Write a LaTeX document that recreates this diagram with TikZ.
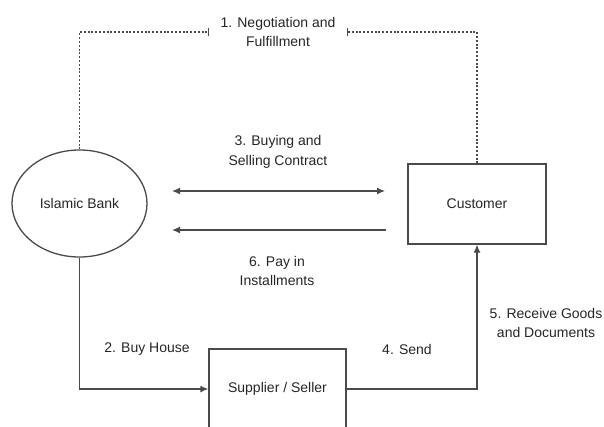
\documentclass[tikz,border=0pt]{standalone}
\usepackage{fontspec}
\setmainfont{Liberation Sans}
\usetikzlibrary{arrows.meta,shapes.geometric}
\definecolor{ln}{HTML}{4A4A4A}
\definecolor{tx}{HTML}{262626}
\begin{document}
\begin{tikzpicture}[x=1pt,y=-1pt,
  every node/.style={text=tx,font=\fontsize{14}{19.5}\selectfont},
  conn/.style={draw=ln,line width=1.3pt},
  tip/.style={-{Latex[length=8pt,width=7pt]}},
  dots/.style={draw=ln,line width=1.2pt,dash pattern=on 2pt off 1.8pt},
  boxn/.style={draw=ln,line width=1.3pt,rectangle,inner sep=0pt},
  lbl/.style={align=center,inner sep=0pt}]
\useasboundingbox (0,0) rectangle (604,426);
\clip (0,0) rectangle (604,426);
% nodes
\node[draw=ln,line width=1.3pt,ellipse,minimum width=135pt,minimum height=107pt,inner sep=0pt] (bank) at (79.5,203.5) {Islamic Bank};
\node[boxn,minimum width=138pt,minimum height=80pt] (cust) at (477,204) {Customer};
\node[boxn,minimum width=137pt,minimum height=80pt] (sup) at (277.5,389) {Supplier / Seller};
% labels
\node[lbl,minimum width=138pt,minimum height=16pt] (l1) at (278,32) {1. Negotiation and\\Fulfillment};
\node[lbl] (l3) at (278,152) {3. Buying and\\Selling Contract};
\node[lbl] (l6) at (277,271) {6. Pay in\\Installments};
\node[lbl] (l2) at (147,349) {2. Buy House};
\node[lbl] (l4) at (407,349) {4. Send};
\node[lbl] (l5) at (546,323) {5. Receive Goods\\and Documents};
% free coordinates for floating arrows
\coordinate (a3l) at (172,191);
\coordinate (a3r) at (385,191);
\coordinate (a6l) at (172,230);
\coordinate (a6r) at (386,230);
% connectors
\draw[dots] (bank.north) |- (l1.west);
\draw[dots] (cust.north) |- (l1.east);
\draw[draw=ln,line width=1.2pt] ([yshift=-4pt]l1.west) -- ([yshift=4pt]l1.west);
\draw[draw=ln,line width=1.2pt] ([yshift=-4pt]l1.east) -- ([yshift=4pt]l1.east);
\draw[conn,{Latex[length=8pt,width=7pt]}-{Latex[length=8pt,width=7pt]}] (a3l) -- (a3r);
\draw[conn,tip] (a6r) -- (a6l);
\draw[conn,tip] (bank.south) |- (sup.west);
\draw[conn,tip] (sup.east) -| (cust.south);
\end{tikzpicture}
\end{document}
